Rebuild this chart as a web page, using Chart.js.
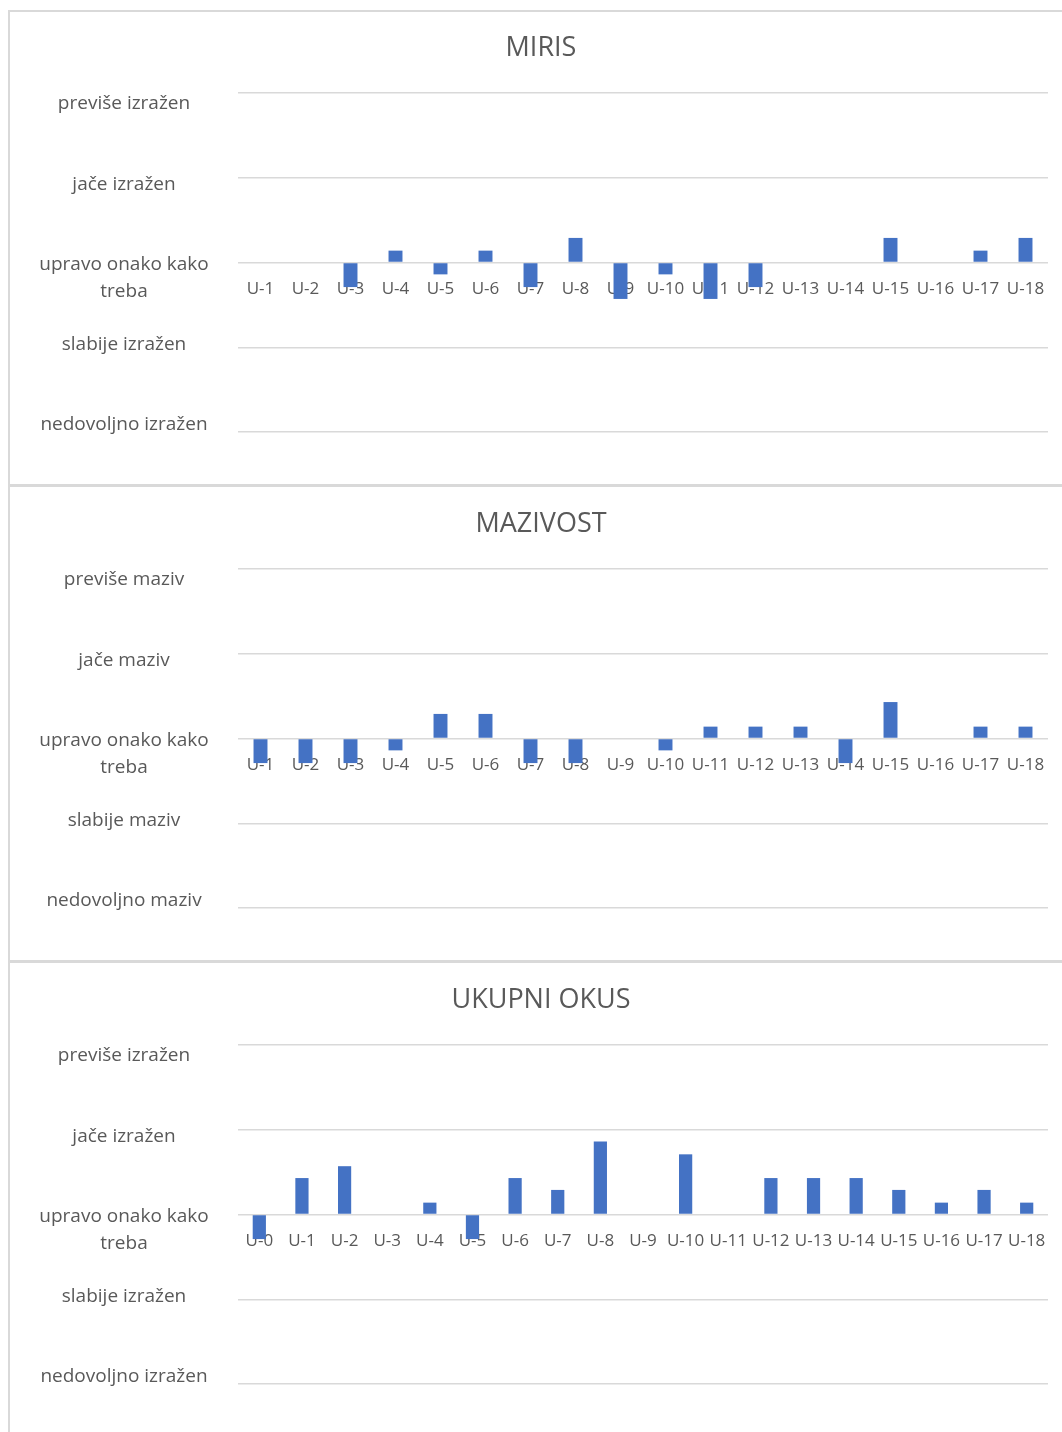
<!DOCTYPE html>
<html>
<head>
<meta charset="utf-8">
<script src="https://cdn.jsdelivr.net/npm/chart.js@4.4.1/dist/chart.umd.min.js"></script>
<style>
  html, body { margin: 0; padding: 0; background: #fff; overflow: hidden; width: 1062px; height: 1432px; }
  .panel { position: absolute; left: 8px; width: 1070px; border: 2px solid #d9d9d9; box-sizing: border-box; }
  canvas { position: absolute; left: 10px; }
</style>
</head>
<body>
<div class="panel" style="top:10px;height:476px"></div>
<div class="panel" style="top:485px;height:477px"></div>
<div class="panel" style="top:961px;height:480px"></div>
<canvas id="miris" width="1052" height="472" style="top:11px"></canvas>
<canvas id="mazivost" width="1052" height="472" style="top:487px"></canvas>
<canvas id="okus" width="1052" height="472" style="top:963px"></canvas>
<script>
// data
const mirisCategories = ['U-1','U-2','U-3','U-4','U-5','U-6','U-7','U-8','U-9','U-10','U-11','U-12','U-13','U-14','U-15','U-16','U-17','U-18'];
const mirisValues = [0, 0, -0.29, 0.14, -0.14, 0.14, -0.29, 0.29, -0.43, -0.14, -0.43, -0.29, 0, 0, 0.29, 0, 0.14, 0.29];

const mazivostCategories = ['U-1','U-2','U-3','U-4','U-5','U-6','U-7','U-8','U-9','U-10','U-11','U-12','U-13','U-14','U-15','U-16','U-17','U-18'];
const mazivostValues = [-0.29, -0.29, -0.29, -0.14, 0.29, 0.29, -0.29, -0.29, 0, -0.14, 0.14, 0.14, 0.14, -0.29, 0.43, 0, 0.14, 0.14];

const okusCategories = ['U-0','U-1','U-2','U-3','U-4','U-5','U-6','U-7','U-8','U-9','U-10','U-11','U-12','U-13','U-14','U-15','U-16','U-17','U-18'];
const okusValues = [-0.29, 0.43, 0.57, 0, 0.14, -0.29, 0.43, 0.29, 0.86, 0, 0.71, 0, 0.43, 0.43, 0.43, 0.29, 0.14, 0.29, 0.14];

const izrazenLabels = ['previše izražen', 'jače izražen', ['upravo onako kako', 'treba'], 'slabije izražen', 'nedovoljno izražen'];
const mazivLabels = ['previše maziv', 'jače maziv', ['upravo onako kako', 'treba'], 'slabije maziv', 'nedovoljno maziv'];

const textColor = '#595959';
const fontFamily = '"Open Sans", sans-serif';

// level names on the left, spread evenly down the plot
const yLabelsPlugin = {
  id: 'yLabels',
  afterDraw(chart, args, opts) {
    const ctx = chart.ctx;
    const area = chart.chartArea;
    const step = (area.height - 18) / (opts.labels.length - 1);
    ctx.save();
    ctx.font = '19px ' + fontFamily;
    ctx.fillStyle = textColor;
    ctx.textAlign = 'center';
    ctx.textBaseline = 'middle';
    opts.labels.forEach((lab, i) => {
      const lines = Array.isArray(lab) ? lab : [lab];
      const y = area.top + 11 + i * step;
      lines.forEach((line, j) => ctx.fillText(line, 114, y + j * 27));
    });
    ctx.restore();
  }
};

function makeChart(id, title, categories, values, levelLabels) {
  return new Chart(document.getElementById(id), {
    type: 'bar',
    data: {
      labels: categories,
      datasets: [{
        data: values,
        backgroundColor: '#4472C4',
        categoryPercentage: 1,
        barPercentage: 0.31
      }]
    },
    options: {
      responsive: false,
      devicePixelRatio: 1,
      animation: false,
      layout: { padding: { left: 24, right: 14, top: 0, bottom: 51 } },
      plugins: {
        legend: { display: false },
        tooltip: { enabled: false },
        title: {
          display: true,
          text: title,
          color: textColor,
          font: { family: fontFamily, size: 27, weight: 'normal' },
          padding: { top: 21, bottom: 28.6 }
        },
        yLabels: { labels: levelLabels }
      },
      scales: {
        x: {
          position: { y: 0 },
          z: 1,
          grid: { display: false },
          border: { display: false },
          ticks: {
            color: textColor,
            font: { family: fontFamily, size: 17 },
            padding: 8,
            autoSkip: false,
            maxRotation: 0
          },
          afterFit(scale) { scale.height = 0; }
        },
        y: {
          min: -2,
          max: 2,
          ticks: { display: false, stepSize: 1 },
          grid: { color: '#d9d9d9', lineWidth: 1.5, drawTicks: false },
          border: { display: false },
          afterFit(scale) { scale.width = 204; }
        }
      }
    },
    plugins: [yLabelsPlugin]
  });
}

makeChart('miris', 'MIRIS', mirisCategories, mirisValues, izrazenLabels);
makeChart('mazivost', 'MAZIVOST', mazivostCategories, mazivostValues, mazivLabels);
makeChart('okus', 'UKUPNI OKUS', okusCategories, okusValues, izrazenLabels);
</script>
</body>
</html>
